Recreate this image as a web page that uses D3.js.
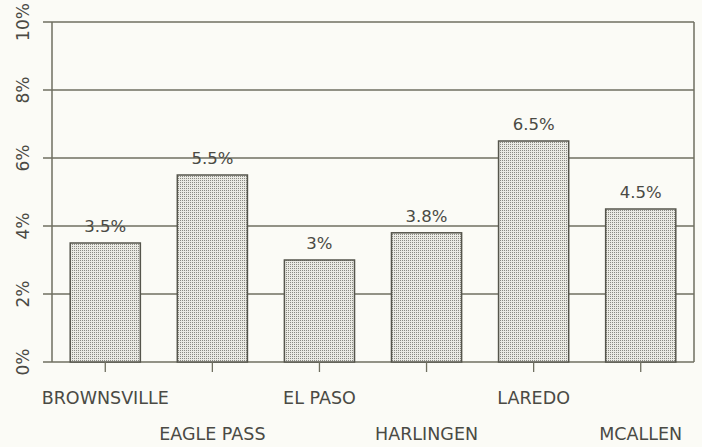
<!DOCTYPE html>
<html>
<head>
<meta charset="utf-8">
<script src="https://cdn.jsdelivr.net/npm/d3@7"></script>
<style>
  body { margin: 0; background: #fbfbf6; }
  svg { display: block; }
  text { font-family: "DejaVu Sans", sans-serif; fill: #4a4a44; }
</style>
</head>
<body>
<svg width="702" height="447"></svg>
<script>
const cities = ["BROWNSVILLE", "EAGLE PASS", "EL PASO", "HARLINGEN", "LAREDO", "MCALLEN"];
const rates = [3.5, 5.5, 3, 3.8, 6.5, 4.5];
const rateLabels = ["3.5%", "5.5%", "3%", "3.8%", "6.5%", "4.5%"];
const yTicks = [0, 2, 4, 6, 8, 10];

const svg = d3.select("svg");
const plotLeft = 52, plotRight = 694, plotTop = 22, plotBottom = 362;
const lineColor = "#6f6f60";

// halftone fill like the printed bars
const pat = svg.append("defs").append("pattern")
    .attr("id", "dots")
    .attr("width", 2).attr("height", 2)
    .attr("patternUnits", "userSpaceOnUse");
pat.append("rect").attr("width", 2).attr("height", 2).attr("fill", "#eaeae4");
pat.append("rect").attr("width", 1).attr("height", 1).attr("fill", "#8a8a83");

const x = d3.scaleBand().domain(cities).range([plotLeft, plotRight]).paddingInner(0.345).paddingOuter(0.17);
const y = d3.scaleLinear().domain([0, 10]).range([plotBottom, plotTop]);

// gridlines
svg.selectAll(".grid")
    .data(yTicks)
    .enter().append("line")
    .attr("class", "grid")
    .attr("x1", plotLeft - 9).attr("x2", plotRight)
    .attr("y1", d => y(d)).attr("y2", d => y(d))
    .attr("stroke", lineColor).attr("stroke-width", 1.3);

// left and right frame
svg.append("line").attr("x1", plotLeft).attr("x2", plotLeft).attr("y1", plotTop).attr("y2", plotBottom)
    .attr("stroke", lineColor).attr("stroke-width", 1.5);
svg.append("line").attr("x1", plotRight).attr("x2", plotRight).attr("y1", plotTop).attr("y2", plotBottom)
    .attr("stroke", lineColor).attr("stroke-width", 1.5);

// y labels, rotated
svg.selectAll(".ylab")
    .data(yTicks)
    .enter().append("text")
    .attr("class", "ylab")
    .attr("transform", d => "translate(29," + y(d) + ") rotate(-90)")
    .attr("text-anchor", "middle")
    .attr("font-size", 17)
    .text(d => d + "%");

// bars
svg.selectAll(".bar")
    .data(rates)
    .enter().append("rect")
    .attr("class", "bar")
    .attr("x", (d, i) => x(cities[i]))
    .attr("y", d => y(d))
    .attr("width", x.bandwidth())
    .attr("height", d => y(0) - y(d))
    .attr("fill", "url(#dots)")
    .attr("stroke", "#55554c").attr("stroke-width", 1.5);

// value labels
svg.selectAll(".val")
    .data(rates)
    .enter().append("text")
    .attr("class", "val")
    .attr("x", (d, i) => x(cities[i]) + x.bandwidth() / 2)
    .attr("y", d => y(d) - 11)
    .attr("text-anchor", "middle")
    .attr("font-size", 16.5)
    .text((d, i) => rateLabels[i]);

// bottom ticks
svg.selectAll(".xtick")
    .data(cities)
    .enter().append("line")
    .attr("class", "xtick")
    .attr("x1", d => x(d) + x.bandwidth() / 2).attr("x2", d => x(d) + x.bandwidth() / 2)
    .attr("y1", plotBottom).attr("y2", plotBottom + 10)
    .attr("stroke", lineColor).attr("stroke-width", 1.3);

// category labels, staggered in two rows
svg.selectAll(".xlab")
    .data(cities)
    .enter().append("text")
    .attr("class", "xlab")
    .attr("x", d => x(d) + x.bandwidth() / 2)
    .attr("y", (d, i) => i % 2 === 0 ? 404 : 440)
    .attr("text-anchor", "middle")
    .attr("font-size", 17.5)
    .text(d => d);
</script>
</body>
</html>
